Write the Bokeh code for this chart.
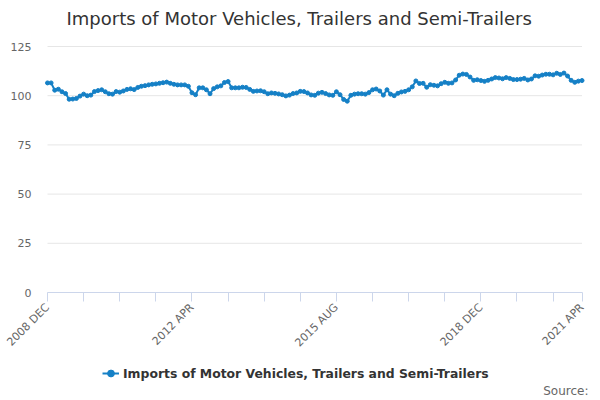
import math
from bokeh.plotting import figure
from bokeh.models import (Range1d, FixedTicker, Legend, LegendItem, Label)
from bokeh.embed import file_html
from bokeh.resources import INLINE

title_text = "Imports of Motor Vehicles, Trailers and Semi-Trailers"
series_name = "Imports of Motor Vehicles, Trailers and Semi-Trailers"
source_text = "Source:"

# monthly values, 2008 DEC .. 2021 APR
values = [
    106.5, 106.5, 102.8, 103.3, 102.0, 101.1, 98.2, 98.3, 98.6, 99.8,
    100.8, 100.0, 100.3, 102.1, 102.6, 103.0, 102.0, 101.0, 100.8, 102.1,
    101.8, 102.4, 103.2, 103.5, 103.1, 104.2, 104.8, 105.1, 105.5, 105.8,
    106.0, 106.3, 106.6, 106.9, 106.3, 105.8, 105.5, 105.5, 105.5, 104.8,
    101.5, 100.5, 104.0, 104.0, 103.0, 101.0, 103.6, 104.5, 105.0, 106.7,
    107.2, 104.0, 104.0, 104.0, 104.3, 104.2, 103.2, 102.2, 102.4, 102.5,
    102.0, 101.0, 101.4, 101.2, 100.9, 100.5, 99.9, 100.3, 101.1, 101.4,
    102.2, 102.1, 101.4, 100.4, 100.2, 101.3, 101.7, 101.1, 100.4, 100.2,
    102.0, 100.5, 98.1, 97.2, 100.2, 100.8, 101.0, 101.0, 100.8, 101.6,
    103.0, 103.4, 102.4, 100.3, 103.0, 100.8, 100.0, 101.2, 101.9, 102.2,
    103.0, 104.5, 107.5, 106.2, 106.3, 104.3, 105.6, 105.3, 105.0, 106.1,
    106.8, 106.3, 106.5, 108.0, 110.4, 111.0, 110.8, 109.5, 107.8, 108.1,
    107.7, 107.3, 107.8, 108.5, 109.2, 109.0, 108.6, 109.2, 108.8, 108.2,
    108.2, 108.4, 108.8, 108.0, 108.5, 110.1, 109.9, 110.5, 110.9, 110.9,
    110.6, 111.4, 110.8, 111.5, 110.0, 107.8, 106.8, 107.4, 107.7,
]
month_index = list(range(len(values)))

tick_positions = [0, 40, 80, 120, 148]
tick_labels = ["2008 DEC", "2012 APR", "2015 AUG", "2018 DEC", "2021 APR"]
minor_positions = [10, 20, 30, 50, 60, 70, 90, 100, 110, 130, 140]
y_ticks = [0, 25, 50, 75, 100, 125]

FONT = "DejaVu Sans"
LINE_COLOR = "#1580c6"

# layout (pixels): canvas 600x400; plot area x 47..581.5, y 46 (125) .. 292 (0)
W, H = 600, 400
PLOT_LEFT, PLOT_RIGHT = 47, 581.5
PLOT_TOP, PLOT_BOTTOM = 46, 292
x0, x1 = month_index[0], month_index[-1]
px_x = (PLOT_RIGHT - PLOT_LEFT) / (x1 - x0)
px_y = (PLOT_BOTTOM - PLOT_TOP) / (y_ticks[-1] - y_ticks[0])
x_start = x0 - PLOT_LEFT / px_x
x_end = x1 + (W - PLOT_RIGHT) / px_x
y_start = y_ticks[0] - (H - PLOT_BOTTOM) / px_y
y_end = y_ticks[-1] + PLOT_TOP / px_y

p = figure(width=W, height=H, output_backend="svg", toolbar_location=None,
           x_range=Range1d(x_start, x_end), y_range=Range1d(y_start, y_end),
           min_border_left=0, min_border_right=0, min_border_top=0,
           min_border_bottom=0)
p.outline_line_color = None
p.background_fill_color = "white"
p.border_fill_color = "white"
p.xgrid.visible = False
p.ygrid.visible = False

# horizontal grid lines spanning the plot area only
p.segment(x0=[x0] * len(y_ticks), x1=[x1] * len(y_ticks), y0=y_ticks,
          y1=y_ticks, line_color="#e6e6e6", line_width=1)

ln = p.line(month_index, values, line_color=LINE_COLOR, line_width=2)
sc = p.scatter(month_index, values, size=4, fill_color=LINE_COLOR,
               line_color=LINE_COLOR)

# x axis drawn at value 0
all_ticks = sorted(tick_positions + minor_positions)
p.xaxis.fixed_location = 0
p.xaxis.bounds = (x0, x1)
p.xaxis.ticker = FixedTicker(ticks=all_ticks, minor_ticks=[])
overrides = {t: "" for t in minor_positions}
overrides.update({t: lab for t, lab in zip(tick_positions, tick_labels)})
p.xaxis.major_label_overrides = overrides
p.xaxis.major_label_orientation = math.pi / 4
p.xaxis.axis_line_color = "#ccd6eb"
p.xaxis.major_tick_line_color = "#ccd6eb"
p.xaxis.major_tick_out = 9
p.xaxis.major_tick_in = 0
p.xaxis.minor_tick_line_color = None
p.xaxis.major_label_text_color = "#666666"
p.xaxis.major_label_text_font = FONT
p.xaxis.major_label_text_font_size = "11px"
p.xaxis.major_label_standoff = 4

# y axis drawn at month 0
p.yaxis.fixed_location = x0
p.yaxis.ticker = FixedTicker(ticks=y_ticks, minor_ticks=[])
p.yaxis.axis_line_color = None
p.yaxis.major_tick_line_color = None
p.yaxis.minor_tick_line_color = None
p.yaxis.major_tick_out = 0
p.yaxis.major_label_standoff = 16
p.yaxis.major_label_text_color = "#666666"
p.yaxis.major_label_text_font = FONT
p.yaxis.major_label_text_font_size = "11px"

# title (screen units from the frame's bottom-left, frame = whole canvas)
p.add_layout(Label(x=66, y=H - 18, x_units="screen", y_units="screen",
                   text=title_text, text_align="left", text_baseline="middle",
                   text_font=FONT, text_font_size="18px", text_color="#333333"))

# source
p.add_layout(Label(x=588, y=H - 390, x_units="screen", y_units="screen",
                   text=source_text, text_align="right", text_baseline="middle",
                   text_font=FONT, text_font_size="12px", text_color="#666666"))

legend = Legend(items=[LegendItem(label=series_name, renderers=[ln, sc])],
                location=(102, H - 383), orientation="horizontal",
                label_text_font=FONT, label_text_font_size="12.4px",
                label_text_font_style="bold", label_text_color="#333333",
                glyph_width=17, glyph_height=20, label_height=20,
                label_standoff=4, padding=2, margin=0, spacing=0,
                border_line_color=None, background_fill_alpha=0)
p.add_layout(legend, "center")

open("out.html", "w").write(file_html(p, INLINE))
